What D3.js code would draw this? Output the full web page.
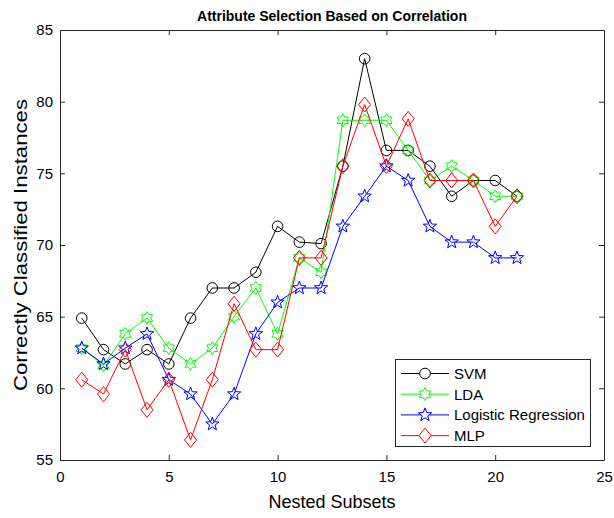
<!DOCTYPE html>
<html>
  <head>
    <meta charset="utf-8">
    <title>Attribute Selection Based on Correlation</title>
    <style>
      body { margin: 0; background: #fff; }
      text { font-family: "Liberation Sans", Arial, Helvetica, sans-serif; fill: #000; }
      .axis path, .axis line { stroke: #262626; }
      .axis text { font-size: 15px; }
    </style>
  </head>
  <body>
    <svg width="614" height="518"></svg>
    <script src="https://cdnjs.cloudflare.com/ajax/libs/d3/7.8.5/d3.min.js"></script>
    <script>
      // data
      var subsets = d3.range(1, 22);
      var svm = [64.9, 62.7, 61.7, 62.7, 61.7, 64.9, 67.0, 67.0, 68.1, 71.3, 70.2, 70.1,
                 75.5, 83.0, 76.6, 76.6, 75.5, 73.4, 74.5, 74.5, 73.4];
      var lda = [62.8, 61.6, 63.8, 64.9, 62.8, 61.7, 62.8, 65.0, 67.0, 63.8, 69.1, 68.1,
                 78.7, 78.7, 78.7, 76.6, 74.5, 75.5, 74.5, 73.4, 73.4];
      var logistic = [62.8, 61.7, 62.8, 63.8, 60.6, 59.6, 57.5, 59.6, 63.8, 66.0, 67.0, 67.0,
                      71.3, 73.4, 75.5, 74.5, 71.3, 70.2, 70.2, 69.1, 69.1];
      var mlp = [60.6, 59.6, 62.7, 58.5, 60.6, 56.4, 60.6, 65.9, 62.7, 62.7, 69.1, 69.1,
                 75.5, 79.8, 75.5, 78.8, 74.5, 74.5, 74.5, 71.3, 73.4];
      var seriesNames = ["SVM", "LDA", "Logistic Regression", "MLP"];
      var xTicks = [0, 5, 10, 15, 20, 25];
      var yTicks = [55, 60, 65, 70, 75, 80, 85];

      var series = [
        { name: seriesNames[0], values: svm, color: "#000000", marker: "circle" },
        { name: seriesNames[1], values: lda, color: "#00ff00", marker: "hexagram" },
        { name: seriesNames[2], values: logistic, color: "#0000ff", marker: "pentagram" },
        { name: seriesNames[3], values: mlp, color: "#ff0000", marker: "diamond" }
      ];

      var svg = d3.select("svg");
      var plotL = 60, plotR = 604, plotT = 30, plotB = 460;

      var x = d3.scaleLinear().domain([0, 25]).range([plotL, plotR]);
      var y = d3.scaleLinear().domain([55, 85]).range([plotB, plotT]);

      // marker shapes, MATLAB style
      function starPath(points, rOut, rIn, rot) {
        var pts = [];
        for (var i = 0; i < points * 2; i++) {
          var r = i % 2 === 0 ? rOut : rIn;
          var a = rot + i * Math.PI / points;
          pts.push([r * Math.sin(a), -r * Math.cos(a)]);
        }
        return "M" + pts.map(p => p[0].toFixed(2) + "," + p[1].toFixed(2)).join("L") + "Z";
      }
      var markerPath = {
        circle: "M5.3,0A5.3,5.3 0 1,1 -5.3,0A5.3,5.3 0 1,1 5.3,0Z",
        hexagram: starPath(6, 6.5, 3.8, 0),
        pentagram: starPath(5, 7, 2.9, 0),
        diamond: "M0,-7.5L6,0L0,7.5L-6,0Z"
      };

      // axes box with inward ticks on all sides
      var g = svg.append("g");
      g.append("g").attr("class", "axis")
        .attr("transform", `translate(0,${plotB})`)
        .call(d3.axisBottom(x).tickValues(xTicks).tickSizeInner(-5).tickSizeOuter(0).tickPadding(11));
      g.append("g").attr("class", "axis")
        .attr("transform", `translate(0,${plotT})`)
        .call(d3.axisTop(x).tickValues(xTicks).tickSizeInner(-5).tickSizeOuter(0).tickFormat(""));
      g.append("g").attr("class", "axis")
        .attr("transform", `translate(${plotL},0)`)
        .call(d3.axisLeft(y).tickValues(yTicks).tickSizeInner(-5).tickSizeOuter(0).tickPadding(7));
      g.append("g").attr("class", "axis")
        .attr("transform", `translate(${plotR},0)`)
        .call(d3.axisRight(y).tickValues(yTicks).tickSizeInner(-5).tickSizeOuter(0).tickFormat(""));
      g.selectAll(".axis .domain").attr("stroke-width", 1);

      var line = d3.line()
        .x((d, i) => x(subsets[i]))
        .y(d => y(d));

      series.forEach(function(s) {
        svg.append("path")
          .datum(s.values)
          .attr("d", line)
          .attr("fill", "none")
          .attr("stroke", s.color)
          .attr("stroke-width", 1);
        svg.append("g")
          .selectAll("path")
          .data(s.values)
          .enter()
          .append("path")
          .attr("transform", (d, i) => `translate(${x(subsets[i])},${y(d)})`)
          .attr("d", markerPath[s.marker])
          .attr("fill", "none")
          .attr("stroke", s.color)
          .attr("stroke-width", 1);
      });

      // title and labels
      svg.append("text")
        .attr("x", (plotL + plotR) / 2).attr("y", 21)
        .attr("text-anchor", "middle")
        .style("font-size", "14px").style("font-weight", "bold")
        .text("Attribute Selection Based on Correlation");
      svg.append("text")
        .attr("x", (plotL + plotR) / 2).attr("y", 508)
        .attr("text-anchor", "middle")
        .style("font-size", "18px")
        .text("Nested Subsets");
      svg.append("text")
        .attr("transform", `translate(27,${(plotT + plotB) / 2}) rotate(-90)`)
        .attr("text-anchor", "middle")
        .attr("textLength", 292)
        .attr("lengthAdjust", "spacingAndGlyphs")
        .style("font-size", "18px")
        .text("Correctly Classified Instances");

      // legend
      var legend = svg.append("g");
      legend.append("rect")
        .attr("x", 395.5).attr("y", 359.5)
        .attr("width", 195).attr("height", 87)
        .attr("fill", "#fff").attr("stroke", "#262626").attr("stroke-width", 1);
      series.forEach(function(s, i) {
        var ly = 373.5 + i * 20.7;
        legend.append("line")
          .attr("x1", 401).attr("x2", 449).attr("y1", ly).attr("y2", ly)
          .attr("stroke", s.color).attr("stroke-width", 1);
        legend.append("path")
          .attr("transform", `translate(425,${ly})`)
          .attr("d", markerPath[s.marker])
          .attr("fill", "#fff").attr("stroke", s.color);
        legend.append("text")
          .attr("x", 454).attr("y", ly + 5.5)
          .style("font-size", "15px")
          .text(s.name);
      });
    </script>
  </body>
</html>
